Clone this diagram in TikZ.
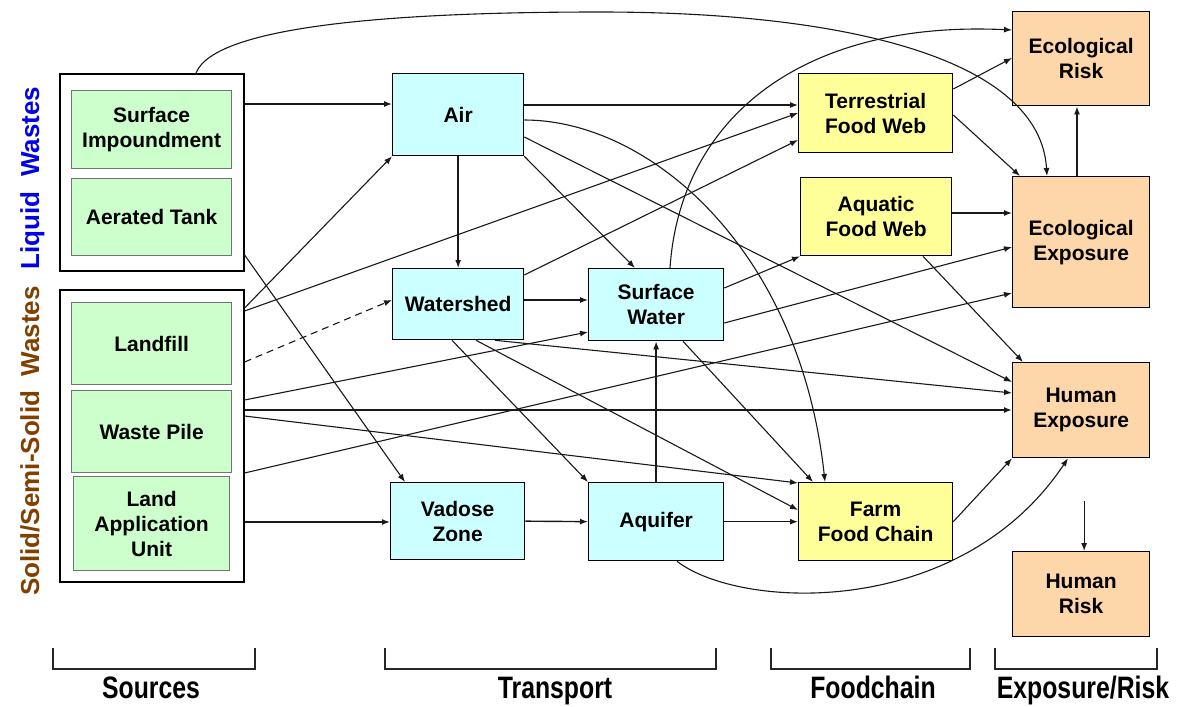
\documentclass[tikz,border=0pt]{standalone}
\usepackage{fontspec}
\usepackage{graphicx}
\setmainfont{Liberation Sans}
\usetikzlibrary{arrows.meta,calc}
\definecolor{grn}{RGB}{204,255,204}
\definecolor{cyn}{RGB}{204,255,255}
\definecolor{ylw}{RGB}{255,255,153}
\definecolor{pch}{RGB}{253,214,170}
\definecolor{liqblue}{RGB}{0,0,235}
\definecolor{solbrown}{RGB}{128,64,0}
\definecolor{ink}{RGB}{25,25,25}
\begin{document}
\begin{tikzpicture}[x=1pt,y=-1pt,
  box/.style={draw=black, line width=1.3pt, inner sep=0pt, align=center,
    font=\fontsize{21}{25}\selectfont\bfseries, anchor=north west},
  srcbox/.style={box, fill=grn, draw=black!55},
  trnbox/.style={box, fill=cyn},
  fcbox/.style={box, fill=ylw},
  exbox/.style={box, fill=pch},
  grpbox/.style={draw=black, line width=1.6pt, anchor=north west, inner sep=0pt, fill=white},
  con/.style={draw=ink, line width=1.1pt, -{Latex[length=8pt,width=6pt]}},
  sidelbl/.style={rotate=90, anchor=base, font=\fontsize{26}{30}\selectfont\bfseries},
  catlbl/.style={anchor=base, font=\fontsize{31}{36}\selectfont\bfseries},
  brk/.style={draw=black!85, line width=1.3pt}
]
\useasboundingbox[fill=white] (0,0) rectangle (1187,707);

% side labels
\node[sidelbl, text=liqblue] (liqlbl) at (39,178) {Liquid\ \ Wastes};
\node[sidelbl, text=solbrown] (sollbl) at (39,441) {Solid/Semi-Solid\ \ Wastes};

% group boxes
\node[grpbox, minimum width=184, minimum height=197] (liquid) at (59,73) {};
\node[grpbox, minimum width=184, minimum height=292] (solid) at (59,289) {};

% sources
\node[srcbox, minimum width=160, minimum height=78] (si) at (71,90) {Surface\\Impoundment};
\node[srcbox, minimum width=160, minimum height=77] (at) at (71,178) {Aerated Tank};
\node[srcbox, minimum width=160, minimum height=82] (landfill) at (71,302) {Landfill};
\node[srcbox, minimum width=160, minimum height=82] (wastepile) at (71,390) {Waste Pile};
\node[srcbox, minimum width=156, minimum height=94] (lau) at (73,476) {Land\\Application\\Unit};

% transport
\node[trnbox, minimum width=131, minimum height=82] (air) at (392,73) {Air};
\node[trnbox, minimum width=131, minimum height=71] (watershed) at (392,268) {Watershed};
\node[trnbox, minimum width=135, minimum height=72] (sw) at (588,268) {Surface\\Water};
\node[trnbox, minimum width=134, minimum height=77] (vadose) at (390,482) {Vadose\\Zone};
\node[trnbox, minimum width=135, minimum height=78] (aquifer) at (588,482) {Aquifer};

% foodchain
\node[fcbox, minimum width=154, minimum height=79] (terr) at (798,73) {Terrestrial\\Food Web};
\node[fcbox, minimum width=151, minimum height=78] (aquatic) at (800,177) {Aquatic\\Food Web};
\node[fcbox, minimum width=154, minimum height=78] (farm) at (798,482) {Farm\\Food Chain};

% exposure / risk
\node[exbox, minimum width=137, minimum height=94] (ecorisk) at (1012,11) {Ecological\\Risk};
\node[exbox, minimum width=137, minimum height=131] (ecoexp) at (1012,176) {Ecological\\Exposure};
\node[exbox, minimum width=137, minimum height=95] (humexp) at (1012,362) {Human\\Exposure};
\node[exbox, minimum width=137, minimum height=85] (humrisk) at (1012,551) {Human\\Risk};

% connectors from sources
\draw[con] ($(liquid.north east)+(0,31)$) -- ($(air.north west)+(0,31)$);
\draw[con] ($(liquid.north west)+(137,0)$) .. controls (215,25) and (400,12) .. (600,12)
   .. controls (850,12) and (1040,60) .. ($(ecoexp.north west)+(35,0)$);
\draw[con] ($(liquid.north east)+(0,182)$) -- ($(vadose.north west)+(15,0)$);
\draw[con] ($(solid.north east)+(0,19)$) -- (air.south west);
\draw[con] ($(solid.north east)+(0,22)$) -- ($(terr.north west)+(0,40)$);
\draw[con, dashed, dash pattern=on 7pt off 5pt] ($(solid.north east)+(0,73)$) -- ($(watershed.north west)+(0,32)$);
\draw[con] ($(solid.north east)+(0,111)$) -- ($(sw.north west)+(0,64)$);
\draw[con, line width=1.6pt] ($(solid.north east)+(0,121)$) -- ($(humexp.north west)+(0,48)$);
\draw[con] ($(solid.north east)+(0,127)$) -- ($(farm.north west)+(0,1)$);
\draw[con] ($(solid.north east)+(0,184)$) -- ($(ecoexp.north west)+(0,117)$);
\draw[con, line width=1.4pt] ($(solid.north east)+(0,233)$) -- ($(vadose.north west)+(0,40)$);

% from air
\draw[con] ($(air.north east)+(0,32)$) -- ($(terr.north west)+(0,32)$);
\draw[con, line width=1.4pt] (air.south) -- (watershed.north);
\draw[con] (air.south east) -- ($(sw.north west)+(47,0)$);
\draw[con] ($(air.north east)+(0,47)$) .. controls (650,120) and (800,250) .. ($(farm.north west)+(27,0)$);
\draw[con] ($(air.north east)+(0,64)$) -- ($(humexp.north west)+(0,20)$);

% from watershed
\draw[con] ($(watershed.north east)+(0,32)$) -- ($(sw.north west)+(0,32)$);
\draw[con] ($(watershed.north east)+(0,7)$) -- ($(terr.north west)+(0,67)$);
\draw[con] ($(watershed.south west)+(60,0)$) -- (aquifer.north west);
\draw[con] ($(watershed.south west)+(84,0)$) -- ($(farm.north west)+(0,28)$);
\draw[con] ($(watershed.south west)+(103,0)$) -- ($(humexp.north west)+(0,31)$);

% from surface water
\draw[con] ($(sw.north east)+(0,20)$) -- (aquatic.south west);
\draw[con] ($(sw.north east)+(0,55)$) -- ($(ecoexp.north west)+(0,71)$);
\draw[con] ($(sw.north west)+(82,0)$) .. controls (680,120) and (800,20) .. ($(ecorisk.north west)+(0,19)$);
\draw[con] ($(sw.south west)+(95,0)$) -- ($(farm.north west)+(15,0)$);

% from aquifer / vadose
\draw[con, line width=1.4pt] (aquifer.north) -- (sw.south);
\draw[con, line width=1.4pt] (aquifer.east) -- (farm.west);
\draw[con] ($(aquifer.south west)+(89,0)$) .. controls (740,610) and (960,620) .. ($(humexp.south west)+(56,0)$);
\draw[con, line width=1.4pt] (vadose.east) -- (aquifer.west);

% from foodchain
\draw[con] ($(terr.north east)+(0,16)$) -- ($(ecorisk.north west)+(0,47)$);
\draw[con] ($(terr.north east)+(0,42)$) -- ($(ecoexp.north west)+(8,0)$);
\draw[con] ($(aquatic.north east)+(0,36)$) -- ($(ecoexp.north west)+(0,37)$);
\draw[con] ($(aquatic.south west)+(123,0)$) -- ($(humexp.north west)+(11,0)$);
\draw[con] (farm.east) -- (humexp.south west);

% exposure to risk
\draw[con, line width=2.2pt] ($(ecoexp.north west)+(65,0)$) -- ($(ecorisk.south west)+(65,0)$);
\coordinate (hrstart) at ($(humexp.south)+(3,43)$);
\draw[con] (hrstart) -- ($(humrisk.north)+(3,0)$);

% category brackets
\draw[brk] (53,648) |- (255,669) -- (255,648);
\draw[brk] (385,648) |- (716,669) -- (716,648);
\draw[brk] (771,648) |- (970,669) -- (970,648);
\draw[brk] (995,648) |- (1157,669) -- (1157,648);
\node[catlbl] (csrc) at (151,698) {\scalebox{0.8}[1]{Sources}};
\node[catlbl] (ctrn) at (555,698) {\scalebox{0.8}[1]{Transport}};
\node[catlbl] (cfc) at (873,698) {\scalebox{0.8}[1]{Foodchain}};
\node[catlbl] (cexp) at (1083,698) {\scalebox{0.8}[1]{Exposure/Risk}};
\end{tikzpicture}
\end{document}
